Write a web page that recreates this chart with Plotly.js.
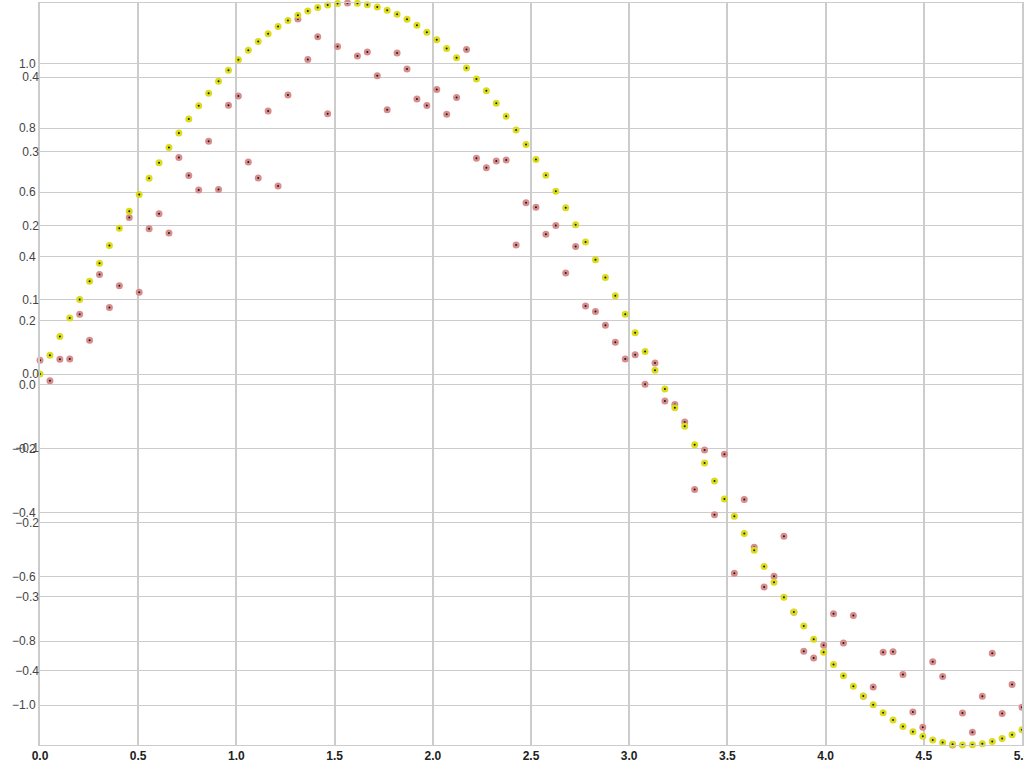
<!DOCTYPE html>
<html>
<head>
<meta charset="utf-8">
<script src="https://cdn.plot.ly/plotly-3.0.1.min.js"></script>
<style>html,body{margin:0;padding:0;background:#fff;}#chart{width:1024px;height:768px;}</style>
</head>
<body>
<div id="chart"></div>
<script>
var xValues = [0, 0.0505, 0.1010, 0.1515, 0.2020, 0.2525, 0.3030, 0.3535, 0.4040, 0.4545,
  0.5051, 0.5556, 0.6061, 0.6566, 0.7071, 0.7576, 0.8081, 0.8586, 0.9091, 0.9596,
  1.0101, 1.0606, 1.1111, 1.1616, 1.2121, 1.2626, 1.3131, 1.3636, 1.4141, 1.4646,
  1.5152, 1.5657, 1.6162, 1.6667, 1.7172, 1.7677, 1.8182, 1.8687, 1.9192, 1.9697,
  2.0202, 2.0707, 2.1212, 2.1717, 2.2222, 2.2727, 2.3232, 2.3737, 2.4242, 2.4747,
  2.5253, 2.5758, 2.6263, 2.6768, 2.7273, 2.7778, 2.8283, 2.8788, 2.9293, 2.9798,
  3.0303, 3.0808, 3.1313, 3.1818, 3.2323, 3.2828, 3.3333, 3.3838, 3.4343, 3.4848,
  3.5354, 3.5859, 3.6364, 3.6869, 3.7374, 3.7879, 3.8384, 3.8889, 3.9394, 3.9899,
  4.0404, 4.0909, 4.1414, 4.1919, 4.2424, 4.2929, 4.3434, 4.3939, 4.4444, 4.4949,
  4.5455, 4.5960, 4.6465, 4.6970, 4.7475, 4.7980, 4.8485, 4.8990, 4.9495, 5.0];

var curveValues = [0, 0.0252, 0.0504, 0.0755, 0.1003, 0.1249, 0.1492, 0.1731, 0.1966, 0.2195,
  0.2420, 0.2637, 0.2848, 0.3052, 0.3248, 0.3436, 0.3615, 0.3785, 0.3945, 0.4095,
  0.4234, 0.4363, 0.4481, 0.4587, 0.4682, 0.4764, 0.4835, 0.4893, 0.4939, 0.4972,
  0.4992, 0.5000, 0.4995, 0.4977, 0.4947, 0.4903, 0.4848, 0.4780, 0.4700, 0.4607,
  0.4504, 0.4388, 0.4261, 0.4124, 0.3976, 0.3818, 0.3650, 0.3473, 0.3287, 0.3093,
  0.2890, 0.2680, 0.2464, 0.2241, 0.2013, 0.1779, 0.1541, 0.1299, 0.1054, 0.0805,
  0.0555, 0.0304, 0.0051, -0.0201, -0.0453, -0.0704, -0.0953, -0.1199, -0.1443, -0.1683,
  -0.1918, -0.2149, -0.2374, -0.2593, -0.2805, -0.3010, -0.3207, -0.3396, -0.3576, -0.3751,
  -0.3913, -0.4065, -0.4207, -0.4338, -0.4458, -0.4566, -0.4663, -0.4749, -0.4822, -0.4882,
  -0.4931, -0.4966, -0.4989, -0.4999, -0.4997, -0.4982, -0.4954, -0.4913, -0.4860, -0.4795];

var noisyValues = [0.076, 0.012, 0.079, 0.080, 0.219, 0.138, 0.343, 0.240, 0.308, 0.521,
  0.288, 0.486, 0.533, 0.473, 0.708, 0.652, 0.607, 0.759, 0.608, 0.871,
  0.900, 0.694, 0.644, 0.853, 0.619, 0.903, 1.140, 1.014, 1.085, 0.845,
  1.054, 1.190, 1.025, 1.037, 0.963, 0.857, 1.034, 0.984, 0.891, 0.870,
  0.920, 0.843, 0.895, 1.045, 0.706, 0.676, 0.697, 0.700, 0.435, 0.567,
  0.553, 0.469, 0.496, 0.348, 0.431, 0.245, 0.228, 0.185, 0.132, 0.080,
  0.093, 0.001, 0.067, -0.051, -0.062, -0.117, -0.327, -0.204, -0.406, -0.217,
  -0.588, -0.358, -0.507, -0.631, -0.598, -0.473, -0.710, -0.832, -0.853, -0.813,
  -0.715, -0.806, -0.720, -0.972, -0.943, -0.835, -0.833, -0.904, -1.021, -1.069,
  -0.864, -0.910, -1.124, -1.024, -1.084, -0.972, -0.838, -1.026, -0.935, -1.006];

var xTickVals = [0, 0.5, 1, 1.5, 2, 2.5, 3, 3.5, 4, 4.5, 5];
var curveTickVals = [-0.4, -0.3, -0.2, -0.1, 0, 0.1, 0.2, 0.3, 0.4];

var noisyRange = [Math.min.apply(null, noisyValues), Math.max.apply(null, noisyValues)];
var curveRange = [-0.49995, 0.49999];

var font = {family: 'Arial, "Liberation Sans", sans-serif', size: 12, color: '#444'};
var xfont = {family: 'Arial, "Liberation Sans", sans-serif', size: 12, color: '#222', weight: 'bold'};

var traces = [
  {
    x: xValues, y: noisyValues, xaxis: 'x', yaxis: 'y',
    type: 'scatter', mode: 'markers', cliponaxis: false, showlegend: false,
    marker: {size: 4.5, color: '#1a1a1a', line: {width: 2.5, color: '#d98c8c'}}
  },
  {
    x: xValues, y: curveValues, xaxis: 'x2', yaxis: 'y2',
    type: 'scatter', mode: 'markers', cliponaxis: false, showlegend: false,
    marker: {size: 4.5, color: '#1a1a1a', line: {width: 2.5, color: '#dcdc1e'}}
  }
];

var layout = {
  width: 1024, height: 768,
  margin: {l: 40, r: 2, t: 3, b: 23, pad: 0},
  paper_bgcolor: '#fff', plot_bgcolor: '#fff',
  font: font,
  showlegend: false,
  xaxis: {
    range: [0, 5], tickvals: xTickVals, tickformat: '.1f',
    showgrid: true, gridcolor: '#cccccc', gridwidth: 2,
    zeroline: false, showline: true, mirror: true, linecolor: '#cccccc', linewidth: 1,
    ticks: '', automargin: false, ticklabeloverflow: 'allow',
    tickfont: xfont
  },
  xaxis2: {
    range: [0, 5], tickvals: xTickVals, tickformat: '.1f', overlaying: 'x',
    showgrid: false, zeroline: false, showline: false, ticks: '', automargin: false,
    ticklabeloverflow: 'allow', showticklabels: false,
    tickfont: xfont
  },
  yaxis: {
    range: noisyRange, dtick: 0.2, tick0: 0, tickformat: '.1f',
    showgrid: true, gridcolor: '#cccccc', gridwidth: 1,
    zeroline: false, showline: true, mirror: true, linecolor: '#cccccc', linewidth: 2,
    ticks: '', automargin: false,
    tickfont: font
  },
  yaxis2: {
    range: curveRange, tickmode: 'array', tickvals: curveTickVals, tickformat: '.1f',
    overlaying: 'y', side: 'left',
    showgrid: true, gridcolor: '#cccccc', gridwidth: 1,
    zeroline: false, showline: false, ticks: '', automargin: false,
    tickfont: font
  }
};

Plotly.newPlot('chart', traces, layout, {displayModeBar: false, staticPlot: true});
</script>
</body>
</html>
